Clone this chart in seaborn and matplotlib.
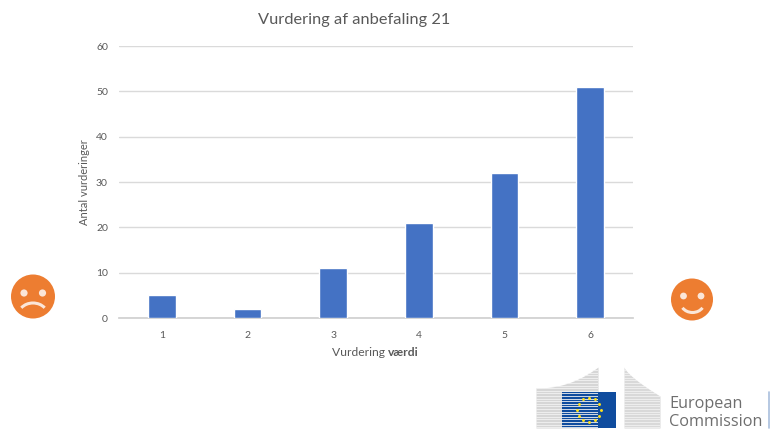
import numpy as np
import pandas as pd
import matplotlib
matplotlib.use("Agg")
import matplotlib.pyplot as plt
from matplotlib.patches import Circle, Arc, Rectangle
import seaborn as sns

categories = ["1", "2", "3", "4", "5", "6"]
counts = [5, 2, 11, 21, 32, 51]
yticks = [0, 10, 20, 30, 40, 50, 60]
title = "Vurdering af anbefaling 21"
ylabel = "Antal vurderinger"
xlabel_a = "Vurdering"
xlabel_b = "værdi"

sns.set_theme(style="white")
plt.rcParams["font.family"] = ["Lato", "DejaVu Sans"]

W, H = 770, 430
BLUE, ORANGE, GRID, TXT = "#4472C4", "#ED7D31", "#DADADA", "#595959"

fig = plt.figure(figsize=(W / 100, H / 100), dpi=100, facecolor="white")
ax = fig.add_axes([119 / W, 1 - 318 / H, (633 - 119) / W, (318 - 46) / H])
df = pd.DataFrame({"cat": categories, "n": counts})
sns.barplot(data=df, x="cat", y="n", color=BLUE, saturation=1, width=0.32, ax=ax, zorder=3)
ax.set_xlim(-0.5, 5.5)
ax.set_ylim(0, 60)
ax.set_yticks(yticks)
ax.set_xlabel("")
ax.set_ylabel(ylabel, fontsize=8, color=TXT, labelpad=4)
ax.grid(axis="y", color=GRID, lw=1, zorder=0)
ax.set_axisbelow(True)
for s in ["top", "right", "left"]:
    ax.spines[s].set_visible(False)
ax.spines["bottom"].set_color("#D0D0D0")
ax.tick_params(axis="both", length=0, labelsize=7.5, labelcolor=TXT)
ax.tick_params(axis="x", pad=9)
ax.tick_params(axis="y", pad=8)

# overlay in pixel coordinates for title, smileys and logo
ov = fig.add_axes([0, 0, 1, 1], zorder=5)
ov.set_xlim(0, W)
ov.set_ylim(H, 0)
ov.axis("off")
ov.patch.set_alpha(0)

ov.text(354.5, 20, title, ha="center", va="center", fontsize=11.8, color=TXT)
ov.text(388, 352, xlabel_a + " ", ha="right", va="center", fontsize=8.7, color=TXT)
ov.text(388, 352, xlabel_b, ha="left", va="center", fontsize=8.7, color=TXT, fontweight="bold")

# sad face
ov.add_patch(Circle((33, 296.5), 22, color=ORANGE, lw=0))
for cx in (24, 42.5):
    ov.add_patch(Circle((cx, 293), 3.6, color="#FBE6D8", lw=0))
ov.add_patch(Arc((33, 316), 30, 26, theta1=215, theta2=325, color="#FBE6D8", lw=2.2))

# happy face
ov.add_patch(Circle((692, 299.5), 21, color=ORANGE, lw=0))
for cx in (683.5, 701):
    ov.add_patch(Circle((cx, 296), 3.4, color="#FBE6D8", lw=0))
ov.add_patch(Arc((692.5, 302), 24, 21, theta1=30, theta2=150, color="#FBE6D8", lw=2.2))

# logo: building wings
xl = np.linspace(536, 598, 60)
top_l = 388 - 21 * ((xl - 536) / 62) ** 2.2
wing_l = ov.fill_between(xl, top_l, 428, color="#D6D6D6", lw=0)
xr = np.linspace(624, 660, 60)
top_r = 367 + 29 * ((xr - 624) / 36) ** 0.75
wing_r = ov.fill_between(xr, top_r, 428, color="#D9D9D9", lw=0)
for y in np.arange(370, 429, 2.6):
    l1, = ov.plot([534, 600], [y, y], color="#F2F2F2", lw=0.6)
    l1.set_clip_path(wing_l.get_paths()[0], wing_l.get_transform())
    l2, = ov.plot([622, 662], [y, y], color="#F2F2F2", lw=0.6)
    l2.set_clip_path(wing_r.get_paths()[0], wing_r.get_transform())
ov.add_patch(Rectangle((562, 392), 54, 35.5, color="#0F4C9E", lw=0))
ang = np.deg2rad(np.arange(0, 360, 30))
ov.scatter(589 + 12 * np.cos(ang), 409.5 + 12 * np.sin(ang), s=4.5, color="#FFE11A", lw=0, zorder=5)
ov.text(669, 404, "European", ha="left", va="center", fontsize=11.7, color="#6E6E6E",
        family=["Open Sans", "DejaVu Sans"])
ov.text(669, 422, "Commission", ha="left", va="center", fontsize=11.7, color="#6E6E6E",
        family=["Open Sans", "DejaVu Sans"])
ov.plot([769, 769], [392, 428], color="#A9BFDD", lw=1.2)

fig.savefig("out.png", dpi=100, facecolor="white")
